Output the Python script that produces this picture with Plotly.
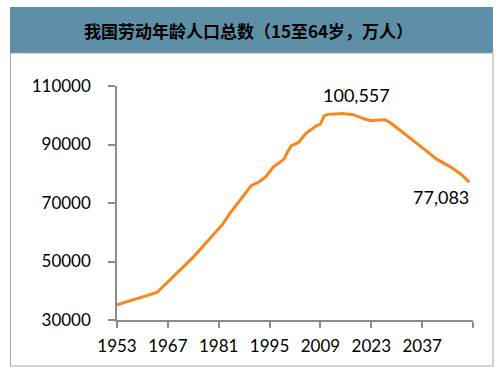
import plotly.graph_objects as go

years = [1953, 1964, 1974, 1982, 1984, 1986, 1990, 1992, 1994, 1996, 1999, 2000, 2001,
         2003, 2005, 2006, 2008, 2009, 2010, 2011, 2015, 2018, 2021, 2023, 2026, 2027,
         2028, 2031, 2033, 2036, 2038, 2041, 2043, 2045, 2048, 2050]
population = [35200, 39400, 51500, 62600, 66300, 69500, 76000, 77100, 79000, 82300, 85000,
              87600, 89600, 90700, 93800, 94700, 96500, 97000, 99800, 100300, 100557, 100200,
              98800, 98150, 98500, 98300, 97700, 94800, 92900, 90200, 88000, 85000, 83700,
              82200, 79500, 77083]

x_tickvals = [1953, 1967, 1981, 1995, 2009, 2023, 2037, 2051]
x_ticktext = ["1953", "1967", "1981", "1995", "2009", "2023", "2037", ""]
y_tickvals = [30000, 50000, 70000, 90000, 110000]

title_text = "我国劳动年龄人口总数（15至64岁，万人）"
peak_label = "100,557"
end_label = "77,083"

W, H = 504, 373
L, R, T, B = 117, 31, 86, 53
pw, ph = W - L - R, H - T - B

def px_x(px):
    return (px - L) / pw

def px_y(py):
    return (H - B - py) / ph

fig = go.Figure()
fig.add_trace(go.Scatter(
    x=years, y=population, mode="lines",
    line=dict(color="#F7861E", width=3),
    hoverinfo="skip", showlegend=False,
))

axis_font = dict(family="Lato, 'Liberation Sans', Arial, sans-serif", size=17, color="#000000")

fig.update_layout(
    width=W, height=H,
    margin=dict(l=L, r=R, t=T, b=B),
    paper_bgcolor="white", plot_bgcolor="white",
    xaxis=dict(
        range=[1953, 2051], tickvals=x_tickvals, ticktext=x_ticktext,
        showgrid=False, zeroline=False, showline=True, linecolor="#8C8C8C", linewidth=1.5,
        ticks="outside", ticklen=6, tickcolor="#8C8C8C", tickwidth=1.5,
        tickfont=axis_font, ticklabelstandoff=4,
    ),
    yaxis=dict(
        range=[30000, 110000], tickvals=y_tickvals, tickformat="d",
        showgrid=False, zeroline=False, showline=True, linecolor="#8C8C8C", linewidth=1.5,
        ticks="outside", ticklen=7, tickcolor="#8C8C8C", tickwidth=1.5,
        tickfont=axis_font, ticklabelstandoff=14,
    ),
    shapes=[
        dict(type="rect", xref="paper", yref="paper",
             x0=px_x(10), x1=px_x(493), y0=px_y(53), y1=px_y(7),
             fillcolor="#5D90A7", line=dict(width=0), layer="below"),
        dict(type="rect", xref="paper", yref="paper",
             x0=px_x(10.5), x1=px_x(493), y0=px_y(366), y1=px_y(53),
             fillcolor="rgba(0,0,0,0)", line=dict(color="#A6A6A6", width=1), layer="below"),
    ],
    annotations=[
        dict(text=title_text, xref="paper", yref="paper", x=px_x(248), y=px_y(31),
             xanchor="center", yanchor="middle", showarrow=False,
             font=dict(family="'Noto Sans CJK SC', sans-serif", size=17, color="#000000", weight="bold")),
        dict(text=peak_label, xref="x", yref="y", x=2019, y=106800,
             xanchor="center", yanchor="middle", showarrow=False, font=axis_font | dict(size=18)),
        dict(text=end_label, xref="x", yref="y", x=2042.2, y=71900,
             xanchor="center", yanchor="middle", showarrow=False, font=axis_font | dict(size=18)),
    ],
)

fig.write_html("out.html", config={"displayModeBar": False},
               post_script="document.body.style.margin='0';document.body.style.padding='0';")
